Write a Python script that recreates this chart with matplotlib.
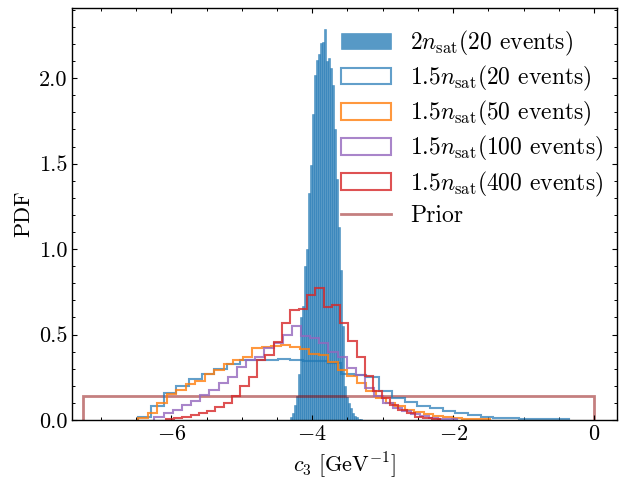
import numpy as np
import matplotlib
matplotlib.use("Agg")
import matplotlib.pyplot as plt
import matplotlib.ticker as ticker

# 2 n_sat, 20 events (filled)
sat2_start, sat2_width = -4.316, 0.02833
sat2_pdf = [0.02, 0.043, 0.088, 0.14, 0.27, 0.60, 0.67, 0.90, 1.00,
            1.33, 1.49, 1.79, 2.02, 2.105, 2.14, 2.205, 2.21, 2.29,
            2.10, 2.12, 2.06, 1.96, 1.70, 1.41,
            1.13, 0.88, 0.55, 0.20, 0.136, 0.10, 0.07, 0.04, 0.025,
            0.015, 0.008, 0.004]

# 1.5 n_sat, 20 events
n20_start, n20_width = -6.47, 0.18
n20_pdf = [0.02, 0.08, 0.16, 0.20, 0.24, 0.27, 0.30, 0.33, 0.35,
           0.35, 0.35, 0.355, 0.35, 0.345, 0.345, 0.335, 0.27, 0.265,
           0.253, 0.17, 0.127, 0.108, 0.082, 0.068, 0.053, 0.039, 0.029,
           0.02, 0.014, 0.01, 0.008, 0.005, 0.004, 0.003]

# 1.5 n_sat, 50 events
n50_start, n50_width = -6.47, 0.135
n50_pdf = [0.01, 0.04, 0.10, 0.15, 0.175, 0.21, 0.23, 0.27, 0.29, 0.33,
           0.35, 0.37, 0.42, 0.43, 0.435, 0.44, 0.43, 0.413, 0.386, 0.38,
           0.341, 0.292, 0.257, 0.218, 0.17, 0.13, 0.10, 0.08, 0.06,
           0.045, 0.035, 0.025, 0.018, 0.012, 0.008, 0.005, 0.003]

# 1.5 n_sat, 100 events
n100_start, n100_width = -6.24, 0.13
n100_pdf = [0.016, 0.043, 0.06, 0.085, 0.11, 0.146, 0.175, 0.214, 0.253,
            0.31, 0.351, 0.37, 0.42, 0.45, 0.50, 0.55, 0.49, 0.478, 0.448,
            0.40, 0.37, 0.302, 0.263, 0.19, 0.14, 0.10, 0.07, 0.05, 0.035,
            0.022, 0.014, 0.008, 0.004]

# 1.5 n_sat, 400 events
n400_start, n400_width = -6.082, 0.118
n400_pdf = [0.005, 0.01, 0.018, 0.028, 0.04, 0.055, 0.075, 0.10, 0.14,
            0.20, 0.253, 0.35, 0.38, 0.458, 0.57, 0.645, 0.65, 0.73, 0.77,
            0.66, 0.675, 0.57, 0.46, 0.37, 0.26, 0.17, 0.13, 0.09, 0.06,
            0.04, 0.02, 0.01, 0.005]

# uniform prior
prior_low, prior_high = -7.25, 0.0
prior_pdf = [1.0 / 7.25]

labels = [r"$2n_{\rm sat}$(20 events)",
          r"$1.5n_{\rm sat}$(20 events)",
          r"$1.5n_{\rm sat}$(50 events)",
          r"$1.5n_{\rm sat}$(100 events)",
          r"$1.5n_{\rm sat}$(400 events)",
          "Prior"]

plt.rcParams.update({
    "font.family": "serif",
    "font.serif": ["cmr10"],
    "mathtext.fontset": "cm",
    "axes.formatter.use_mathtext": True,
    "font.size": 16,
    "axes.linewidth": 1.0,
    "xtick.direction": "in",
    "ytick.direction": "in",
    "xtick.top": True,
    "ytick.right": True,
    "xtick.major.size": 3.6,
    "ytick.major.size": 3.6,
    "xtick.minor.size": 2.0,
    "ytick.minor.size": 2.0,
    "xtick.major.width": 0.8,
    "ytick.major.width": 0.8,
    "xtick.minor.width": 0.7,
    "ytick.minor.width": 0.7,
})


def edges_of(start, width, values):
    return start + width * np.arange(len(values) + 1)


def hist_from(ax, start, width, values, **kw):
    e = edges_of(start, width, values)
    centers = 0.5 * (e[:-1] + e[1:])
    return ax.hist(centers, bins=e, weights=values, **kw)


fig, ax = plt.subplots(figsize=(6.21, 4.8), dpi=100)
fig.subplots_adjust(left=0.116, right=0.994, bottom=0.125, top=0.983)

hist_from(ax, sat2_start, sat2_width, sat2_pdf, histtype="bar",
          color="C0", alpha=0.75, edgecolor="C0", linewidth=0.4,
          label=labels[0])

step_kw = dict(histtype="step", linewidth=1.5, alpha=0.8)
hist_from(ax, n20_start, n20_width, n20_pdf, color="C0", label=labels[1],
          **dict(step_kw, alpha=0.7))
hist_from(ax, n50_start, n50_width, n50_pdf, color="C1", label=labels[2], **step_kw)
hist_from(ax, n100_start, n100_width, n100_pdf, color="C4", label=labels[3], **step_kw)
hist_from(ax, n400_start, n400_width, n400_pdf, color="C3", label=labels[4], **step_kw)

ax.stairs(prior_pdf, [prior_low, prior_high], baseline=0, fill=False,
          color="darkred", alpha=0.5, linewidth=2.0, label=labels[5])

ax.set_xlim(-7.41, 0.33)
ax.set_ylim(0, 2.41)
ax.xaxis.set_major_locator(ticker.MultipleLocator(2))
ax.xaxis.set_minor_locator(ticker.MultipleLocator(0.5))
ax.yaxis.set_major_locator(ticker.MultipleLocator(0.5))
ax.yaxis.set_minor_locator(ticker.MultipleLocator(0.1))
ax.yaxis.set_major_formatter(ticker.FormatStrFormatter("%.1f"))

ax.set_xlabel(r"$c_3\ [\mathrm{GeV}^{-1}]$")
ax.set_ylabel("PDF")

ax.legend(loc="upper right", bbox_to_anchor=(1.0, 0.985), frameon=False,
          fontsize=17, labelspacing=0.26, handlelength=2.1,
          handletextpad=0.8, borderaxespad=0.2)

fig.savefig("out.png", dpi=100)
